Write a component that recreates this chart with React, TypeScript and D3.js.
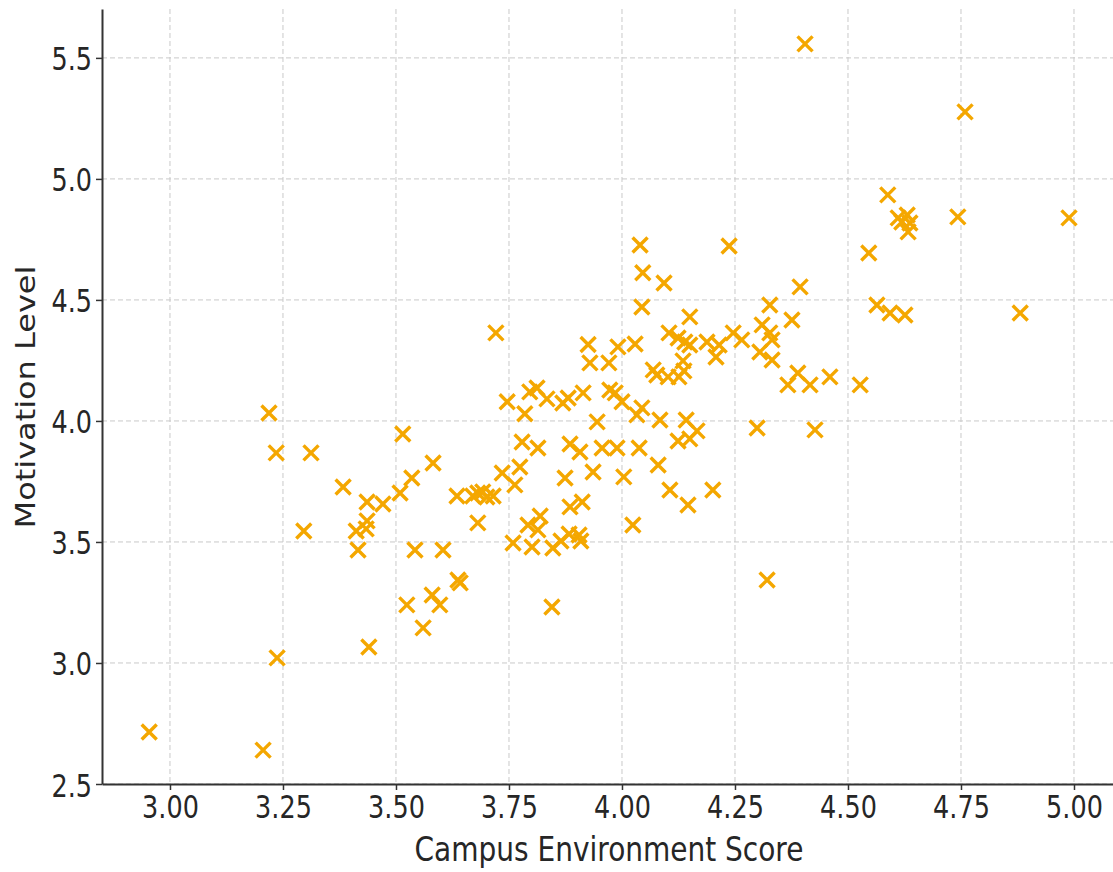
import React, { useEffect, useRef } from 'react';
import * as d3 from 'd3';

// Campus environment score (x) and motivation level (y)
const campusScore = [
  2.954, 3.206, 3.219, 3.235, 3.237, 3.296, 3.312, 3.383, 3.416, 3.412,
  3.436, 3.434, 3.436, 3.44, 3.471, 3.509, 3.515, 3.524, 3.535, 3.542,
  3.56, 3.58, 3.582, 3.597, 3.604, 3.637, 3.642, 3.635, 3.67, 3.681,
  3.692, 3.701, 3.715, 3.681, 3.721, 3.735, 3.746, 3.763, 3.759, 3.774,
  3.779, 3.785, 3.792, 3.819, 3.814, 3.796, 3.812, 3.801, 3.845, 3.814,
  3.834, 3.847, 3.865, 3.883, 3.905, 3.909, 3.869, 3.881, 3.874, 3.885,
  3.907, 3.885, 3.912, 3.914, 3.925, 3.929, 3.936, 3.945, 3.956, 3.989,
  3.971, 3.991, 3.973, 3.985, 4.0, 4.004, 4.024, 4.029, 4.033, 4.044,
  4.038, 4.04, 4.046, 4.044, 4.069, 4.077, 4.08, 4.084, 4.093, 4.104,
  4.102, 4.126, 4.137, 4.135, 4.124, 4.139, 4.15, 4.106, 4.142, 4.166,
  4.124, 4.15, 4.146, 4.15, 4.188, 4.215, 4.208, 4.201, 4.237, 4.246,
  4.265, 4.299, 4.305, 4.332, 4.31, 4.327, 4.332, 4.321, 4.327, 4.367,
  4.389, 4.416, 4.376, 4.394, 4.405, 4.427, 4.46, 4.527, 4.546, 4.564,
  4.588, 4.593, 4.626, 4.611, 4.631, 4.619, 4.637, 4.633, 4.743, 4.759,
  4.881, 4.989,
];

const motivation = [
  2.715, 2.64, 4.033, 3.868, 3.021, 3.545, 3.868, 3.727, 3.467, 3.545,
  3.587, 3.554, 3.665, 3.066, 3.657, 3.702, 3.946, 3.24, 3.764, 3.467,
  3.145, 3.281, 3.826, 3.24, 3.467, 3.343, 3.331, 3.69, 3.69, 3.702,
  3.707, 3.686, 3.69, 3.579, 4.364, 3.785, 4.079, 3.736, 3.496, 3.81,
  3.913, 4.03, 3.57, 3.607, 3.55, 4.12, 4.136, 3.479, 3.231, 3.888,
  4.091, 3.475, 3.504, 3.533, 3.529, 3.504, 4.074, 4.095, 3.764, 3.905,
  3.872, 3.645, 3.665, 4.116, 4.316, 4.24, 3.789, 3.996, 3.888, 3.888,
  4.24, 4.306, 4.128, 4.116, 4.079, 3.769, 3.57, 4.318, 4.025, 4.054,
  3.888, 4.727, 4.612, 4.471, 4.211, 4.19, 3.818, 4.004, 4.57, 4.364,
  4.182, 4.182, 4.207, 4.248, 4.343, 4.326, 4.314, 3.715, 4.004, 3.959,
  3.917, 3.926, 3.653, 4.43, 4.326, 4.314, 4.264, 3.715, 4.723, 4.364,
  4.335, 3.971, 4.285, 4.252, 4.397, 4.364, 4.335, 3.343, 4.479, 4.149,
  4.198, 4.149, 4.417, 4.554, 5.558, 3.963, 4.182, 4.149, 4.694, 4.479,
  4.934, 4.446, 4.438, 4.839, 4.851, 4.822, 4.818, 4.781, 4.843, 5.277,
  4.446, 4.839,
];

const xTicks = [3.0, 3.25, 3.5, 3.75, 4.0, 4.25, 4.5, 4.75, 5.0];
const yTicks = [2.5, 3.0, 3.5, 4.0, 4.5, 5.0, 5.5];

const xLabel = 'Campus Environment Score';
const yLabel = 'Motivation Level';

const App = () => {
  const svgRef = useRef(null);

  useEffect(() => {
    const svg = d3.select(svgRef.current);
    svg.selectAll('*').remove();

    const left = 102;
    const right = 1113;
    const top = 9;
    const bottom = 784;
    const stretch = 'scale(1,1.23)';
    const font = "'DejaVu Sans', sans-serif";
    const ink = '#262626';

    const x = d3.scaleLinear().domain([2.8496, 5.0863]).range([left, right]);
    const y = d3.scaleLinear().domain([2.5, 5.702]).range([bottom, top]);

    // grid
    const grid = svg.append('g')
      .attr('stroke', '#c9c9c9')
      .attr('stroke-width', 1)
      .attr('stroke-dasharray', '5,3');
    grid.selectAll('line.vx')
      .data(xTicks)
      .join('line')
      .attr('class', 'vx')
      .attr('x1', (d) => x(d))
      .attr('x2', (d) => x(d))
      .attr('y1', top)
      .attr('y2', bottom);
    grid.selectAll('line.hy')
      .data(yTicks)
      .join('line')
      .attr('class', 'hy')
      .attr('x1', left)
      .attr('x2', right)
      .attr('y1', (d) => y(d))
      .attr('y2', (d) => y(d));

    // points (x markers)
    const points = campusScore.map((c, i) => [c, motivation[i]]);
    const r = 7.5;
    svg.append('g')
      .selectAll('path')
      .data(points)
      .join('path')
      .attr('transform', (d) => `translate(${x(d[0])},${y(d[1])})`)
      .attr('d', `M${-r},${-r}L${r},${r}M${-r},${r}L${r},${-r}`)
      .attr('fill', 'none')
      .attr('stroke', '#F4A700')
      .attr('stroke-width', 3.4);

    // axes
    const xAxis = svg.append('g')
      .attr('transform', `translate(0,${bottom})`)
      .call(d3.axisBottom(x).tickValues(xTicks).tickFormat(d3.format('.2f')).tickSize(6).tickSizeOuter(0));
    const yAxis = svg.append('g')
      .attr('transform', `translate(${left},0)`)
      .call(d3.axisLeft(y).tickValues(yTicks).tickFormat(d3.format('.1f')).tickSize(6).tickSizeOuter(0));

    [xAxis, yAxis].forEach((g) => {
      g.attr('font-family', font).attr('font-size', 25.5);
      g.select('.domain').attr('stroke', '#333').attr('stroke-width', 2);
      g.selectAll('.tick line').attr('stroke', '#333').attr('stroke-width', 1.5);
      g.selectAll('.tick text').attr('fill', ink).attr('dy', null);
    });
    xAxis.selectAll('.tick text')
      .attr('y', 0)
      .attr('transform', `translate(0,34) ${stretch}`);
    yAxis.selectAll('.tick text')
      .attr('x', 0)
      .attr('transform', `translate(-10,12) ${stretch}`);

    // labels
    svg.append('text')
      .attr('transform', `translate(609,861) ${stretch}`)
      .attr('text-anchor', 'middle')
      .attr('font-family', font)
      .attr('font-size', 28)
      .attr('fill', ink)
      .text(xLabel);
    svg.append('text')
      .attr('transform', `translate(35,397) ${stretch} rotate(-90)`)
      .attr('text-anchor', 'middle')
      .attr('font-family', font)
      .attr('font-size', 26)
      .attr('fill', ink)
      .text(yLabel);
  }, []);

  return (
    <svg
      ref={svgRef}
      width={1113}
      height={872}
      style={{ position: 'absolute', left: 0, top: 0, background: '#fff' }}
    />
  );
};

export default App;
